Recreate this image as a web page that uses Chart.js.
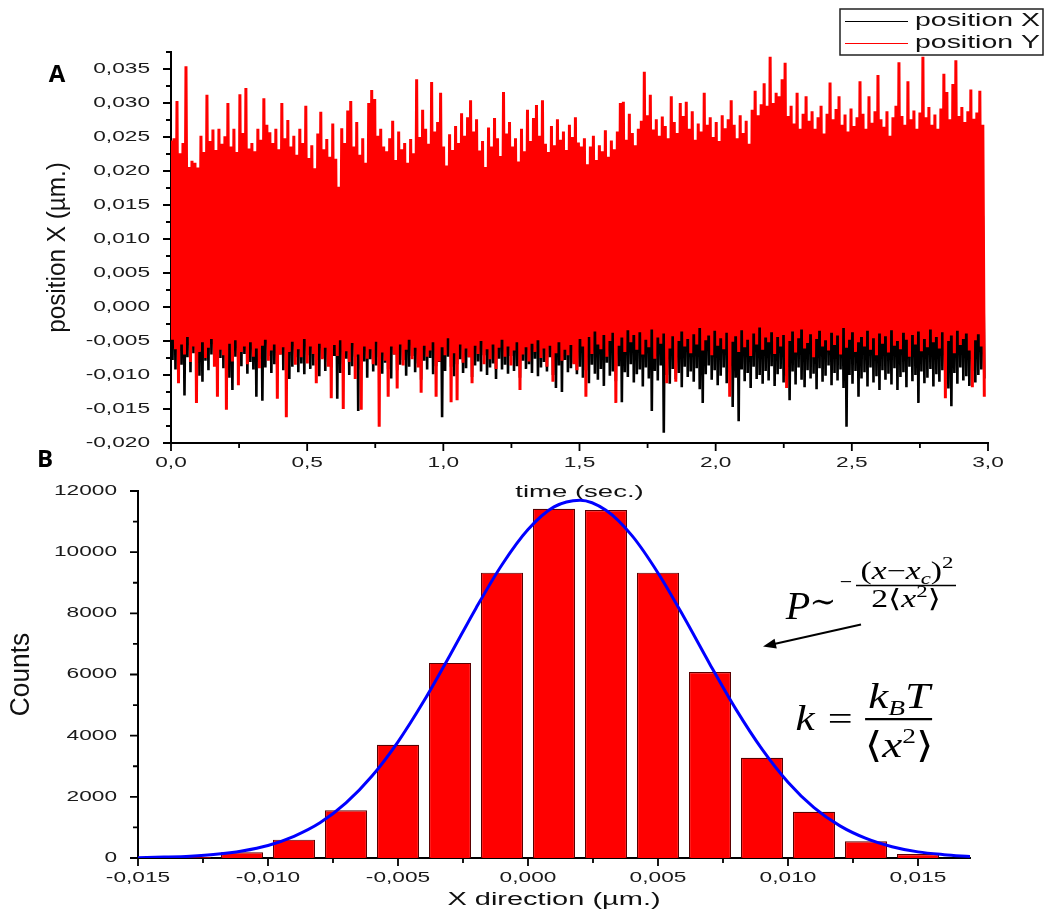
<!DOCTYPE html>
<html>
<head>
<meta charset="utf-8">
<title>Bead position and histogram</title>
<script src="https://cdn.jsdelivr.net/npm/chart.js@4/dist/chart.umd.min.js"></script>
<style>
  html, body { margin: 0; padding: 0; background: #fff; }
  body { position: relative; width: 1048px; height: 916px; overflow: hidden; }
  canvas { position: absolute; left: 0; }
  #traceChart { top: 0; }
  #histChart { top: 440px; }
</style>
</head>
<body>
<canvas id="traceChart" width="1048" height="505"></canvas>
<canvas id="histChart" width="1048" height="476"></canvas>
<script>
// Trace values are kept in units of 0.1 nm (1e-4 µm); each sample holds the
// highest and lowest excursion seen in one sampleStep slice of the recording.
const UNIT = 1e-4;
const sampleStep = 0.011; // seconds

const posXHigh = [
  128,112,141,104,133,119,146,108,125,137,101,130,116,143,110,127,121,
  139,106,131,118,144,102,126,135,113,140,109,129,122,147,105,132,117,
  136,111,142,103,128,120,145,107,124,138,114,131,100,143,119,126,134,
  109,141,116,129,123,148,104,133,118,137,112,127,142,106,130,121,139,
  115,135,102,128,144,110,125,136,119,141,107,132,123,146,113,129,138,
  104,131,120,143,111,126,137,116,140,108,134,122,145,103,128,139,117,
  130,114,142,106,127,136,119,144,110,125,138,113,141,105,133,121,147,
  118,134,109,129,140,115,126,143,107,131,122,145,112,137,120,128,135,
  124,139,111,133,146,117,128,141,106,135,125,148,113,130,142,119,136,
  127,144,115,132,140,121,137,149,110,134,126,143,118,139,129,146,116,
  138,123,145,112,136,130,147,117,141,128,150,120,135,144,125,139,131,
  142,119,133,148,126,140,114,137,145,122,131,149,118,136,143,127,134,
  121,146,130,139,115,143,132,148,124,137,141,119,135,147,128,133,144,
  136,125,142,131,149,118,138,145,127,134,140,122,147,130,139,126,143,
  129,141,120,136,148,132,144,124,139,135,150,127,142,131,146,121,137,
  140,128,145,133,122,147,135,130,143,126,138,149,124,141,132,146,134
];
const posXLow = [
  -78,-92,-71,-85,-130,-74,-96,-68,-88,-101,-110,-79,-93,-70,-86,-99,-75,
  -90,-82,-104,-122,-73,-95,-87,-69,-98,-81,-92,-132,-76,-138,-89,-72,-97,
  -84,-101,-70,-93,-79,-106,-88,-74,-96,-83,-99,-71,-91,-86,-78,-102,-75,
  -94,-81,-89,-72,-135,-97,-84,-76,-100,-87,-73,-153,-92,-80,-104,-77,-95,
  -86,-74,-98,-82,-91,-105,-70,-93,-85,-78,-101,-88,-72,-96,-83,-107,-79,
  -92,-75,-99,-87,-81,-162,-94,-73,-88,-102,-84,-77,-97,-90,-74,-103,-86,
  -80,-95,-71,-100,-89,-83,-106,-76,-92,-85,-98,-72,-94,-87,-104,-79,-91,
  -84,-97,-76,-102,-89,-81,-95,-74,-100,-119,-86,-125,-78,-96,-90,-83,-99,
  -88,-104,-93,-112,-85,-98,-107,-91,-116,-82,-101,-95,-109,-87,-140,-96,-103,
  -84,-111,-99,-92,-117,-89,-105,-153,-94,-108,-86,-185,-100,-113,-91,-106,-97,
  -118,-88,-103,-95,-110,-90,-121,-141,-99,-86,-107,-93,-115,-101,-89,-112,-96,
  -147,-104,-168,-92,-109,-97,-119,-88,-106,-100,-113,-94,-108,-87,-116,-99,-91,
  -111,-102,-137,-95,-114,-89,-107,-118,-93,-105,-98,-121,-90,-110,-101,-86,-115,
  -97,-108,-92,-119,-176,-100,-113,-94,-132,-105,-96,-117,-89,-111,-102,-122,-93,
  -107,-98,-114,-90,-122,-103,-96,-118,-88,-109,-100,-141,-95,-112,-104,-91,-117,
  -99,-110,-93,-106,-120,-146,-97,-113,-89,-108,-102,-116,-94,-111,-100,-92,-105
];
const posYHigh = [
  245,248,303,226,241,354,206,215,212,205,252,228,312,244,261,231,262,
  240,251,300,236,262,228,313,256,322,233,241,229,262,246,307,268,257,
  241,262,232,300,248,275,236,252,224,262,241,296,219,238,204,255,287,
  232,247,221,270,218,177,263,241,289,303,236,272,224,248,212,300,319,
  306,252,262,236,229,248,274,216,258,232,241,212,247,226,335,250,290,
  262,240,331,258,272,315,236,208,254,231,266,241,285,252,279,304,258,
  276,230,244,206,264,236,278,248,222,316,255,272,236,248,214,262,229,
  290,244,278,297,252,304,240,228,266,238,276,246,258,231,268,250,279,
  242,236,248,210,236,252,216,238,229,260,221,245,232,258,300,302,246,
  284,256,238,262,274,346,282,312,261,276,252,280,266,248,310,272,256,
  300,281,302,262,288,246,270,258,315,268,279,250,272,244,282,263,276,
  304,268,248,282,256,274,240,290,318,282,298,329,296,368,300,315,310,
  335,359,281,296,270,315,262,284,310,274,288,262,279,296,255,284,330,
  276,291,310,268,283,258,292,266,279,332,284,262,310,271,288,341,276,
  265,288,252,279,296,360,281,268,332,276,289,262,286,368,279,294,268,
  283,262,292,343,316,276,328,363,281,294,272,288,320,277,286,318,268
];
const posYLow = [
  -48,-62,-112,-55,-70,-44,-81,-58,-141,-66,-52,-75,-60,-47,-88,-132,-63,
  -71,-151,-54,-80,-49,-115,-66,-58,-84,-52,-73,-61,-90,-57,-48,-79,-64,
  -55,-135,-70,-59,-162,-66,-51,-85,-62,-74,-47,-83,-58,-69,-112,-54,-77,
  -60,-88,-134,-56,-72,-49,-150,-65,-81,-53,-106,-70,-151,-58,-76,-62,-84,
  -51,-176,-67,-79,-132,-58,-70,-120,-55,-86,-63,-48,-77,-60,-89,-126,-57,
  -73,-64,-52,-132,-80,-59,-71,-46,-140,-68,-137,-55,-82,-61,-74,-112,-57,
  -69,-50,-84,-62,-77,-55,-91,-60,-48,-73,-58,-86,-64,-52,-122,-70,-59,
  -80,-54,-66,-49,-75,-61,-88,-57,-110,-68,-52,-79,-63,-71,-56,-84,-93,
  -47,-58,-132,-44,-69,-36,-55,-62,-41,-73,-50,-38,-141,-57,-45,-66,-34,
  -52,-41,-63,-37,-70,-48,-59,-33,-76,-45,-54,-39,-112,-61,-43,-110,-50,
  -36,-58,-47,-68,-40,-55,-31,-64,-49,-42,-71,-35,-57,-46,-62,-38,-132,
  -51,-43,-66,-34,-59,-48,-72,-39,-55,-30,-63,-45,-52,-37,-69,-44,-58,
  -41,-119,-50,-36,-67,-46,-33,-61,-53,-40,-74,-47,-35,-58,-49,-64,-38,
  -56,-42,-70,-31,-60,-48,-37,-66,-52,-44,-58,-35,-63,-46,-71,-39,-54,
  -43,-67,-34,-57,-50,-62,-38,-48,-73,-41,-55,-36,-65,-47,-59,-33,-52,
  -44,-61,-37,-134,-50,-42,-68,-35,-56,-47,-39,-64,-118,-49,-40,-58,-132
];
const timeTicks = [0, 0.5, 1, 1.5, 2, 2.5, 3];
const posTicks = [-0.02, -0.015, -0.01, -0.005, 0, 0.005, 0.01, 0.015, 0.02, 0.025, 0.03, 0.035];

// histogram of the X direction, 0.002 µm bins
const binCenters = [-0.013, -0.011, -0.009, -0.007, -0.005, -0.003, -0.001, 0.001, 0.003, 0.005, 0.007, 0.009, 0.011, 0.013, 0.015];
const binCounts = [30, 190, 600, 1560, 3700, 6380, 9330, 11420, 11380, 9330, 6080, 3280, 1510, 550, 130];
// gaussian fit curve
const fitX = [-0.015, -0.014, -0.013, -0.012, -0.011, -0.01, -0.009, -0.008, -0.007, -0.006, -0.005,
  -0.004, -0.003, -0.002, -0.001, 0, 0.001, 0.002, 0.003, 0.004, 0.005, 0.006, 0.007, 0.008,
  0.009, 0.01, 0.011, 0.012, 0.013, 0.014, 0.015, 0.016, 0.017];
const fitY = [10, 30, 60, 120, 230, 410, 710, 1150, 1800, 2680, 3800, 5140, 6630, 8170, 9590,
  10740, 11480, 11700, 11370, 10540, 9320, 7870, 6330, 4860, 3560, 2480, 1650, 1050, 640, 370, 200, 110, 50];
const dirTicks = [-0.015, -0.01, -0.005, 0, 0.005, 0.01, 0.015];
const countTicks = [0, 2000, 4000, 6000, 8000, 10000, 12000];

const SANS = "'Liberation Sans', Arial, sans-serif";
const SERIF = "'Liberation Serif', 'DejaVu Serif', serif";
const TICK = { font: `14px ${SANS}`, sx: 1.62, color: '#1a1a1a' };
const PANEL = { font: `bold 24px 'Open Sans', sans-serif`, color: '#000' };
const it = s => `italic ${s}px ${SERIF}`;
const rm = s => `${s}px ${SERIF}`;

const fmt = (v, d) => v.toFixed(d).replace('.', ',');

// high/low pairs -> one continuous trace
function traceFrom(high, low) {
  const pts = [];
  high.forEach((h, i) => {
    const t = i * sampleStep;
    pts.push({ x: t, y: h * UNIT }, { x: t + sampleStep / 2, y: low[i] * UNIT });
  });
  return pts;
}

function label(ctx, text, x, y, st) {
  ctx.save();
  ctx.translate(x, y);
  if (st.rotate) ctx.rotate(st.rotate);
  ctx.scale(st.sx || 1, st.sy || 1);
  ctx.font = st.font;
  ctx.fillStyle = st.color || '#111';
  ctx.textAlign = st.align || 'center';
  ctx.textBaseline = st.baseline || 'middle';
  ctx.fillText(text, 0, 0);
  ctx.restore();
}

function marks(scale, majors) {
  const step = majors[1] - majors[0];
  const out = majors.map(v => [v, true]);
  majors.forEach(v => {
    const m = v + step / 2;
    if (m <= scale.max + Math.abs(step) * 1e-6) out.push([m, false]);
  });
  return out;
}

// tick marks, tick labels, titles and the panel letter
function axisDecor(spec) {
  return {
    id: 'axisDecor',
    afterDraw(chart) {
      const { ctx, chartArea: area } = chart;
      const xs = chart.scales.x, ys = chart.scales.y;
      ctx.save();
      ctx.strokeStyle = '#000';
      ctx.lineWidth = 1.8;
      ctx.beginPath();
      marks(xs, spec.xTicks).forEach(([v, major]) => {
        const p = xs.getPixelForValue(v);
        ctx.moveTo(p, area.bottom);
        ctx.lineTo(p, area.bottom + (major ? 8 : 5));
      });
      marks(ys, spec.yTicks).forEach(([v, major]) => {
        const p = ys.getPixelForValue(v);
        ctx.moveTo(area.left, p);
        ctx.lineTo(area.left - (major ? 8 : 5), p);
      });
      ctx.stroke();
      ctx.restore();

      spec.xTicks.forEach(v => label(ctx, fmt(v, spec.xDigits), xs.getPixelForValue(v), area.bottom + 20, TICK));
      spec.yTicks.forEach(v => label(ctx, fmt(v, spec.yDigits), area.left - 21, ys.getPixelForValue(v), { ...TICK, align: 'right' }));
      label(ctx, spec.xTitle, (area.left + area.right) / 2, area.bottom + spec.xTitleGap, spec.xTitleStyle);
      label(ctx, spec.yTitle, spec.yTitleX, (area.top + area.bottom) / 2, spec.yTitleStyle);
      label(ctx, spec.panel, spec.panelAt[0], spec.panelAt[1], PANEL);
      if (spec.extra) spec.extra(chart);
    }
  };
}

function drawLegend(chart) {
  const ctx = chart.ctx;
  const box = { x: 840, y: 9, w: 203, h: 46 };
  ctx.save();
  ctx.strokeStyle = '#222';
  ctx.lineWidth = 1.5;
  ctx.strokeRect(box.x, box.y, box.w, box.h);
  chart.data.datasets.forEach((ds, i) => {
    const y = box.y + 12 + i * 22;
    ctx.strokeStyle = ds.borderColor;
    ctx.lineWidth = 1;
    ctx.beginPath();
    ctx.moveTo(box.x + 5, y + 0.5);
    ctx.lineTo(box.x + 68, y + 0.5);
    ctx.stroke();
    label(ctx, ds.label, box.x + 75, y, { font: `18px ${SANS}`, sx: 1.58, align: 'left', color: '#111' });
  });
  ctx.restore();
}

function mathRun(ctx, parts, cx, base, sx) {
  ctx.save();
  ctx.translate(cx, base);
  ctx.scale(sx, 1);
  ctx.textAlign = 'left';
  ctx.textBaseline = 'alphabetic';
  ctx.fillStyle = '#000';
  const widths = parts.map(([t, f]) => { ctx.font = f; return ctx.measureText(t).width; });
  let x = -widths.reduce((a, b) => a + b, 0) / 2;
  parts.forEach(([t, f, dy], i) => {
    ctx.font = f;
    ctx.fillText(t, x, dy || 0);
    x += widths[i];
  });
  ctx.restore();
}

function rule(ctx, x1, x2, y, w) {
  ctx.save();
  ctx.strokeStyle = '#000';
  ctx.lineWidth = w;
  ctx.beginPath();
  ctx.moveTo(x1, y);
  ctx.lineTo(x2, y);
  ctx.stroke();
  ctx.restore();
}

function arrow(ctx, x1, y1, x2, y2) {
  const a = Math.atan2(y2 - y1, x2 - x1);
  const c = Math.cos(a), s = Math.sin(a);
  ctx.save();
  ctx.strokeStyle = '#000';
  ctx.fillStyle = '#000';
  ctx.lineWidth = 2;
  ctx.beginPath();
  ctx.moveTo(x1, y1);
  ctx.lineTo(x2 - 8 * c, y2 - 8 * s);
  ctx.stroke();
  ctx.beginPath();
  ctx.moveTo(x2, y2);
  ctx.lineTo(x2 - 13 * c + 5 * s, y2 - 13 * s - 5 * c);
  ctx.lineTo(x2 - 13 * c - 5 * s, y2 - 13 * s + 5 * c);
  ctx.closePath();
  ctx.fill();
  ctx.restore();
}

// P ~ exp(-(x-xc)^2 / 2<x^2>) and k = kB T / <x^2>
function drawFormulas(chart) {
  const ctx = chart.ctx;
  const xs = chart.scales.x, ys = chart.scales.y;
  const ax = xs.getPixelForValue(0.0100), ay = ys.getPixelForValue(7800);
  mathRun(ctx, [['P', it(40)]], ax + 10, ay, 1);
  mathRun(ctx, [['∼', rm(32)]], ax + 35, ay - 7, 1);
  mathRun(ctx, [['−', rm(22)]], ax + 58, ay - 30, 1);
  mathRun(ctx, [['(', rm(25)], ['x', it(25)], ['−', rm(25)], ['x', it(25)], ['c', it(17), 5], [')', rm(25)], ['2', rm(17), -11]], ax + 119, ay - 40, 1.35);
  rule(ctx, ax + 68, ax + 168, ay - 34, 1.6);
  mathRun(ctx, [['2', rm(25)], ['⟨', rm(25)], ['x', it(25)], ['2', rm(17), -10], ['⟩', rm(25)]], ax + 118, ay - 12, 1.35);
  arrow(ctx, ax + 73, ay + 5, ax - 25, ay + 27);

  const bx = xs.getPixelForValue(0.01035), by = ys.getPixelForValue(4180);
  mathRun(ctx, [['k', it(36)]], bx + 8, by, 1.2);
  mathRun(ctx, [['=', rm(34)]], bx + 43, by, 1.3);
  mathRun(ctx, [['k', it(36)], ['B', it(22), 7], ['T', it(36)]], bx + 102, by - 22, 1.25);
  rule(ctx, bx + 68, bx + 135, by - 11, 2.4);
  mathRun(ctx, [['⟨', rm(36)], ['x', it(36)], ['2', rm(22), -14], ['⟩', rm(36)]], bx + 102, by + 27, 1.25);
}

const axisLine = { display: true, color: '#000', width: 2 };

new Chart(document.getElementById('traceChart'), {
  type: 'line',
  data: {
    datasets: [
      { label: 'position X', data: traceFrom(posXHigh, posXLow), borderColor: '#000000', borderWidth: 2.6, order: 2 },
      { label: 'position Y', data: traceFrom(posYHigh, posYLow), borderColor: '#ff0000', borderWidth: 3, order: 1 }
    ]
  },
  options: {
    responsive: false,
    animation: false,
    devicePixelRatio: 1,
    parsing: false,
    normalized: true,
    events: [],
    elements: { point: { radius: 0 }, line: { tension: 0, borderJoinStyle: 'bevel' } },
    layout: { padding: { top: 52, right: 60, left: 0, bottom: 0 } },
    plugins: { legend: { display: false }, tooltip: { enabled: false } },
    scales: {
      x: {
        type: 'linear', min: 0, max: 3,
        ticks: { display: false }, grid: { display: false }, border: axisLine,
        afterFit: s => { s.height = 62; }
      },
      y: {
        type: 'linear', min: -0.02, max: 0.0375,
        ticks: { display: false }, grid: { display: false }, border: axisLine,
        afterFit: s => { s.width = 171; }
      }
    }
  },
  plugins: [axisDecor({
    xTicks: timeTicks, xDigits: 1,
    yTicks: posTicks, yDigits: 3,
    xTitle: 'time (sec.)', xTitleGap: 49, xTitleStyle: { font: `17px ${SANS}`, sx: 1.62 },
    yTitle: 'position X (µm.)', yTitleX: 58,
    yTitleStyle: { font: `18px ${SANS}`, rotate: -Math.PI / 2, sx: 1.35, sy: 1.45 },
    panel: 'A', panelAt: [57, 75],
    extra: drawLegend
  })]
});

new Chart(document.getElementById('histChart'), {
  type: 'bar',
  data: {
    datasets: [
      {
        type: 'line', label: 'Gauss fit',
        data: fitX.map((x, i) => ({ x, y: fitY[i] })),
        borderColor: '#0000ff', borderWidth: 3, pointRadius: 0,
        cubicInterpolationMode: 'monotone', order: 0
      },
      {
        label: 'Counts',
        data: binCenters.map((x, i) => ({ x, y: binCounts[i] })),
        backgroundColor: '#ff0000', borderColor: '#5a0000', borderWidth: 1.2,
        categoryPercentage: 1, barPercentage: 0.81, order: 1
      }
    ]
  },
  options: {
    responsive: false,
    animation: false,
    devicePixelRatio: 1,
    events: [],
    layout: { padding: { top: 51, right: 78, left: 0, bottom: 0 } },
    plugins: { legend: { display: false }, tooltip: { enabled: false } },
    scales: {
      x: {
        type: 'linear', min: -0.015, max: 0.017, offset: false,
        ticks: { display: false }, grid: { display: false, offset: false }, border: axisLine,
        afterFit: s => { s.height = 58; }
      },
      y: {
        type: 'linear', min: 0, max: 12000,
        ticks: { display: false }, grid: { display: false }, border: axisLine,
        afterFit: s => { s.width = 138; }
      }
    }
  },
  plugins: [axisDecor({
    xTicks: dirTicks, xDigits: 3,
    yTicks: countTicks, yDigits: 0,
    xTitle: 'X direction (µm.)', xTitleGap: 42, xTitleStyle: { font: `18px ${SANS}`, sx: 1.61 },
    yTitle: 'Counts', yTitleX: 22,
    yTitleStyle: { font: `18px ${SANS}`, rotate: -Math.PI / 2, sx: 1.46, sy: 1.5 },
    panel: 'B', panelAt: [45, 20],
    extra: drawFormulas
  })]
});
</script>
</body>
</html>
